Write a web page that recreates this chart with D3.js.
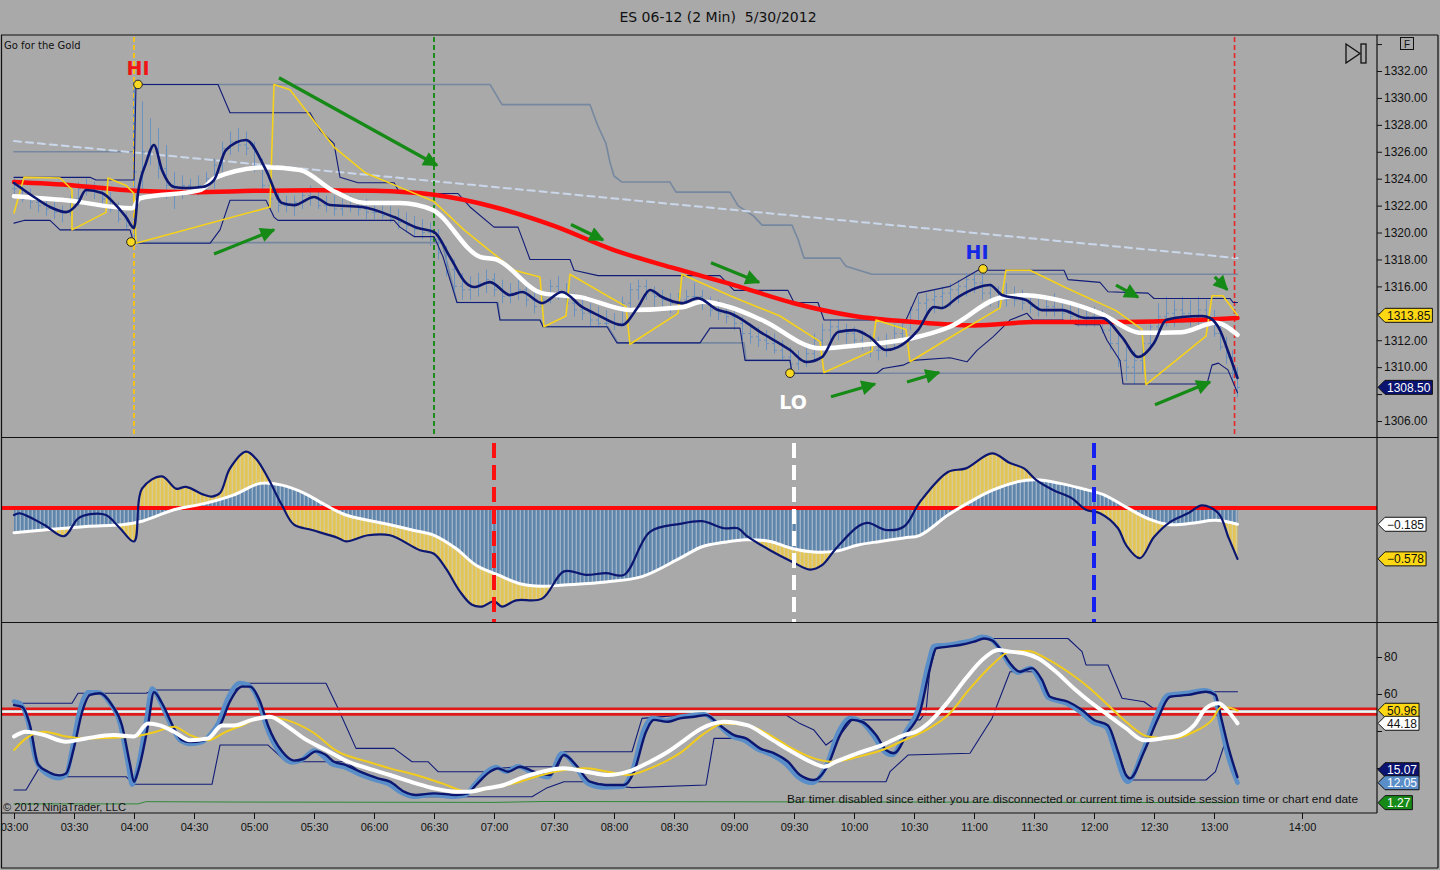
<!DOCTYPE html>
<html>
<head>
<meta charset="utf-8">
<script src="https://cdn.jsdelivr.net/npm/d3@7"></script>
<style>
  html, body { margin: 0; padding: 0; background: #a9a9a9; }
  svg { display: block; }
</style>
</head>
<body>
<svg id="chart" width="1440" height="870"></svg>
<script>
// ---- time axis (minutes after 03:00) ----
const timeTicks = [0, 30, 60, 90, 120, 150, 180, 210, 240, 270, 300, 330, 360, 390, 420, 450, 480, 510, 540, 570, 600, 660];
const timeLabels = ['03:00', '03:30', '04:00', '04:30', '05:00', '05:30', '06:00', '06:30', '07:00', '07:30', '08:00', '08:30',
  '09:00', '09:30', '10:00', '10:30', '11:00', '11:30', '12:00', '12:30', '13:00', '14:00'];
const priceTicks = [1306, 1308, 1310, 1312, 1314, 1316, 1318, 1320, 1322, 1324, 1326, 1328, 1330, 1332, 1334];
const stochTicks = [20, 40, 60, 80];

// ---- price bars, one every 4 minutes from 03:00 ----
const barStep = 4;
const barHigh = [
  1324.0, 1323.5, 1323.25, 1322.75, 1322.5, 1322.25, 1322.0, 1322.75, 1323.75, 1324.0,
  1323.75, 1323.5, 1323.0, 1322.25, 1321.5, 1331.0, 1329.75, 1328.5, 1327.75, 1326.5,
  1324.5, 1324.25, 1324.0, 1324.25, 1324.5, 1325.5, 1326.75, 1327.5, 1327.75, 1327.5,
  1326.75, 1325.5, 1324.5, 1323.25, 1322.75, 1322.75, 1323.25, 1323.5, 1323.25, 1322.75,
  1322.75, 1322.5, 1322.75, 1322.5, 1322.5, 1322.25, 1322.25, 1322.0, 1321.75, 1321.5,
  1321.25, 1321.0, 1320.75, 1320.25, 1319.0, 1318.0, 1317.0, 1316.75, 1317.0, 1317.25,
  1317.0, 1316.5, 1316.25, 1316.5, 1316.25, 1315.75, 1315.5, 1316.5, 1316.75, 1316.25,
  1315.5, 1315.25, 1314.75, 1314.5, 1314.25, 1314.0, 1315.25, 1316.25, 1316.5, 1316.5,
  1316.0, 1315.75, 1315.5, 1315.5, 1315.75, 1316.25, 1315.75, 1315.25, 1315.0, 1314.75,
  1314.5, 1313.75, 1313.25, 1313.0, 1312.75, 1312.5, 1312.0, 1311.5, 1311.25, 1311.75,
  1312.5, 1313.25, 1313.5, 1313.5, 1313.25, 1313.0, 1312.75, 1312.5, 1312.25, 1312.5,
  1313.25, 1313.5, 1314.5, 1315.25, 1315.5, 1315.75, 1316.0, 1316.25, 1316.5, 1317.0,
  1317.0, 1317.25, 1316.25, 1316.0, 1316.25, 1316.0, 1315.75, 1315.5, 1315.25, 1315.25,
  1315.5, 1315.0, 1314.75, 1314.75, 1314.5, 1314.5, 1314.25, 1313.5, 1312.5, 1311.5,
  1311.25, 1312.0, 1313.5, 1314.75, 1315.25, 1315.0, 1315.25, 1315.0, 1315.25, 1315.0,
  1314.25, 1313.25, 1312.25, 1311.25, 1310.0
];
const barLow = [
  1322.75, 1322.25, 1321.75, 1321.5, 1321.25, 1321.0, 1320.75, 1321.25, 1322.0, 1322.75,
  1322.5, 1322.0, 1321.5, 1320.75, 1320.25, 1319.25, 1323.0, 1325.0, 1324.0, 1322.5,
  1321.75, 1322.5, 1322.75, 1322.75, 1323.0, 1323.25, 1324.5, 1325.75, 1326.0, 1325.75,
  1324.5, 1323.0, 1322.0, 1321.5, 1321.5, 1321.25, 1321.75, 1322.0, 1321.75, 1321.5,
  1321.25, 1321.25, 1321.5, 1321.25, 1321.0, 1321.0, 1321.0, 1320.75, 1320.25, 1320.0,
  1319.75, 1319.5, 1319.0, 1318.0, 1316.75, 1315.5, 1315.0, 1315.0, 1315.25, 1315.5,
  1315.25, 1314.75, 1314.75, 1315.0, 1314.5, 1314.0, 1314.0, 1314.75, 1315.0, 1314.25,
  1313.75, 1313.5, 1313.0, 1313.0, 1313.0, 1312.75, 1313.0, 1314.25, 1315.0, 1315.0,
  1314.5, 1314.25, 1314.0, 1314.25, 1314.5, 1314.75, 1314.25, 1313.75, 1313.5, 1313.25,
  1312.75, 1312.0, 1311.75, 1311.5, 1311.25, 1311.0, 1310.5, 1309.5, 1309.75, 1310.0,
  1310.5, 1311.5, 1312.0, 1312.0, 1311.75, 1311.5, 1311.25, 1310.75, 1310.5, 1310.75,
  1311.25, 1312.0, 1312.75, 1313.5, 1313.75, 1314.0, 1314.25, 1314.5, 1314.75, 1315.25,
  1315.5, 1315.0, 1314.5, 1314.25, 1314.5, 1314.5, 1314.25, 1314.0, 1313.75, 1313.75,
  1313.75, 1313.5, 1313.25, 1313.0, 1313.0, 1313.0, 1312.5, 1311.25, 1310.0, 1309.0,
  1308.75, 1309.5, 1311.25, 1312.5, 1313.0, 1313.0, 1313.25, 1313.0, 1313.0, 1313.0,
  1312.25, 1311.25, 1310.25, 1309.0, 1307.75
];
const barClose = [
  1323.25, 1322.5, 1322.25, 1322.0, 1321.75, 1321.5, 1321.5, 1322.5, 1323.25, 1323.25,
  1323.0, 1322.5, 1321.75, 1321.0, 1320.5, 1324.5, 1326.0, 1326.25, 1324.75, 1323.5,
  1323.0, 1323.5, 1323.25, 1323.5, 1324.0, 1325.0, 1326.25, 1326.75, 1326.5, 1326.25,
  1325.0, 1323.5, 1322.5, 1322.0, 1322.0, 1322.25, 1322.75, 1322.5, 1322.0, 1322.0,
  1321.75, 1322.0, 1322.0, 1321.75, 1321.5, 1321.5, 1321.25, 1321.0, 1320.75, 1320.5,
  1320.25, 1320.0, 1319.5, 1318.5, 1317.25, 1316.0, 1315.75, 1316.0, 1316.25, 1316.5,
  1315.75, 1315.25, 1315.5, 1315.75, 1315.0, 1314.5, 1315.0, 1316.0, 1315.5, 1314.75,
  1314.25, 1314.0, 1313.5, 1313.25, 1313.25, 1313.25, 1314.75, 1315.75, 1316.0, 1315.5,
  1315.25, 1315.0, 1314.75, 1315.0, 1315.25, 1315.25, 1314.75, 1314.25, 1314.0, 1313.75,
  1313.25, 1312.5, 1312.25, 1312.0, 1311.75, 1311.25, 1310.75, 1310.25, 1310.5, 1311.0,
  1312.0, 1312.75, 1313.0, 1312.75, 1312.5, 1312.0, 1311.75, 1311.25, 1311.25, 1311.75,
  1312.5, 1313.25, 1314.25, 1314.75, 1315.0, 1315.25, 1315.5, 1315.75, 1316.0, 1316.5,
  1316.25, 1315.5, 1315.0, 1315.0, 1315.25, 1315.0, 1314.75, 1314.5, 1314.25, 1314.5,
  1314.25, 1314.0, 1313.75, 1313.5, 1313.75, 1313.5, 1312.75, 1311.75, 1310.5, 1310.0,
  1310.5, 1311.75, 1313.0, 1313.75, 1314.0, 1314.25, 1314.0, 1313.75, 1314.25, 1313.5,
  1312.5, 1311.5, 1310.75, 1309.5, 1308.5
];

// ---- price panel indicator lines, [minute, price] ----
const slowMA = [[0, 1323.75], [30, 1323.5], [60, 1323.1], [90, 1323.0], [120, 1323.1], [150, 1323.15], [180, 1323.1],
  [210, 1322.8], [240, 1321.9], [270, 1320.5], [300, 1318.7], [330, 1317.35], [360, 1316.1], [390, 1314.75],
  [420, 1313.8], [450, 1313.35], [480, 1313.1], [510, 1313.35], [540, 1313.35], [570, 1313.4], [600, 1313.55], [616, 1313.65]];
const midMA = [[0, 1322.7], [26, 1322.4], [59, 1321.8], [63, 1322.55], [93, 1323.15], [101, 1324.1], [126, 1324.85],
  [143, 1324.65], [159, 1323.15], [176, 1322.2], [193, 1322.2], [209, 1321.7], [233, 1318.2], [241, 1318.0],
  [264, 1315.5], [283, 1315.2], [308, 1314.25], [334, 1314.45], [344, 1314.85], [358, 1314.45], [374, 1313.5],
  [403, 1311.4], [424, 1311.65], [449, 1312.15], [468, 1313.0], [493, 1315.15], [506, 1315.35], [526, 1314.85],
  [543, 1314.0], [564, 1312.55], [584, 1312.6], [601, 1313.3], [616, 1312.4]];
const fastMA = [[0, 1323.68], [10, 1322.64], [18, 1321.9], [26, 1321.52], [32, 1322.19], [36, 1323.16], [44, 1322.94],
  [50, 1322.19], [56, 1321.15], [60, 1320.33], [62, 1322.94], [66, 1325.16], [70, 1326.5], [74, 1324.64], [80, 1323.38],
  [86, 1323.31], [94, 1323.38], [100, 1323.9], [106, 1326.13], [116, 1326.87], [126, 1324.64], [134, 1322.19],
  [140, 1322.04], [150, 1322.64], [158, 1322.04], [174, 1321.9], [190, 1321.15], [202, 1320.33], [210, 1320.04],
  [218, 1318.18], [226, 1316.25], [230, 1315.95], [238, 1316.32], [248, 1315.36], [254, 1315.58], [264, 1314.76],
  [274, 1315.58], [284, 1314.47], [292, 1313.87], [304, 1313.13], [312, 1314.47], [318, 1315.73], [324, 1315.21],
  [334, 1314.76], [342, 1315.13], [352, 1314.24], [358, 1314.01], [374, 1312.53], [388, 1311.27], [396, 1310.38],
  [404, 1310.75], [412, 1312.61], [420, 1312.75], [428, 1312.23], [436, 1311.27], [442, 1311.49], [452, 1312.75],
  [460, 1314.47], [464, 1314.39], [472, 1315.21], [488, 1316.1], [494, 1315.36], [506, 1314.99], [514, 1314.24],
  [524, 1314.24], [536, 1313.65], [544, 1313.65], [554, 1312.23], [562, 1310.75], [570, 1311.79], [576, 1313.5],
  [584, 1313.72], [594, 1313.8], [598, 1313.65], [604, 1312.76], [610, 1311.05], [616, 1309.2]];
const trailStop = [[0, 1321.45], [5, 1324.1], [23, 1324.05], [29, 1323.2], [29, 1320.2], [46, 1321.5], [47, 1324.05],
  [56, 1323.5], [60, 1322.9], [61, 1319.2], [128, 1321.9], [130, 1331.0], [138, 1330.6], [160, 1326.35], [176, 1324.4],
  [194, 1323.3], [210, 1322.3], [225, 1320.2], [250, 1317.2], [263, 1316.7], [265, 1313.0], [276, 1313.8], [278, 1316.9],
  [306, 1314.5], [308, 1311.7], [332, 1314.0], [334, 1316.9], [358, 1315.3], [383, 1313.8], [403, 1311.9], [405, 1309.6],
  [429, 1311.2], [431, 1313.5], [446, 1312.8], [448, 1310.4], [468, 1312.2], [493, 1314.4], [496, 1317.2], [508, 1317.2],
  [526, 1315.9], [551, 1314.2], [564, 1312.8], [566, 1308.7], [596, 1312.3], [599, 1315.3], [606, 1315.3], [616, 1313.85]];
const bandUp = [[0, 1324.1], [38, 1324.1], [41, 1323.9], [60, 1323.9], [61, 1331.0], [102, 1331.0], [108, 1328.9],
  [148, 1328.9], [153, 1327.6], [160, 1326.6], [163, 1324.1], [172, 1323.7], [190, 1323.7], [193, 1322.9], [222, 1322.9],
  [228, 1321.9], [240, 1320.4], [252, 1320.4], [258, 1318.0], [278, 1318.0], [280, 1317.2], [292, 1316.8], [353, 1316.8],
  [360, 1315.7], [387, 1315.7], [390, 1314.8], [402, 1314.8], [405, 1313.5], [446, 1313.5], [452, 1315.5], [468, 1316.0],
  [482, 1317.2], [525, 1317.2], [527, 1316.5], [543, 1316.3], [547, 1315.6], [567, 1315.5], [570, 1315.1], [611, 1315.1],
  [613, 1314.8], [616, 1314.8]];
const bandLo = [[0, 1320.7], [5, 1320.9], [18, 1320.9], [23, 1320.2], [58, 1320.2], [60, 1319.2], [98, 1319.2],
  [103, 1320.2], [108, 1322.4], [126, 1322.4], [130, 1321.15], [132, 1320.9], [190, 1320.9], [193, 1320.4], [200, 1319.7],
  [210, 1319.7], [214.5, 1318.2], [221.5, 1314.8], [241.5, 1314.8], [243, 1313.5], [263, 1313.5], [264.5, 1313.0],
  [296.5, 1313.0], [301.5, 1311.8], [343, 1311.8], [348, 1312.9], [363, 1312.9], [365.5, 1310.5], [388, 1310.5],
  [389, 1309.55], [431.5, 1309.55], [434.5, 1309.9], [444.5, 1310.15], [449.5, 1310.5], [468, 1310.7], [476.5, 1310.4],
  [481.5, 1311.25], [489.5, 1312.25], [498, 1313.5], [506.5, 1314.0], [509.5, 1313.5], [524.5, 1313.5], [531.5, 1313.15],
  [543, 1313.15], [546.5, 1312.0], [553, 1310.5], [554.5, 1308.75], [596.5, 1308.75], [599, 1310.15], [603, 1310.3],
  [609.5, 1309.8], [616, 1308.1]];
const rangeHigh = [[0, 1326.0], [60, 1326.0], [60, 1331.0], [238, 1331.0], [244, 1329.5], [288, 1329.5], [292, 1327.9],
  [296, 1326.6], [298, 1325.2], [300, 1324.2], [304, 1323.75], [328, 1323.75], [331, 1323.0], [358, 1323.0], [362, 1322.0],
  [370, 1321.2], [374, 1320.55], [389, 1320.55], [392, 1319.5], [395, 1318.1], [413, 1318.1], [416, 1317.5], [429, 1316.9],
  [616, 1316.9]];
const rangeLow = [[60, 1319.25], [214, 1319.25], [221.5, 1314.8], [242, 1314.8], [243, 1313.5], [263, 1313.5], [265, 1313.0],
  [297, 1313.0], [302, 1311.8], [365, 1311.8], [366, 1310.5], [388, 1310.5], [389, 1309.55], [616, 1309.55]];
const trendLine = [[0, 1326.8], [616, 1318.1]];
const swingPoints = [[62, 1331.0], [58.5, 1319.3], [388, 1309.55], [484.5, 1317.3]];
const swingLabels = ['HI', '', 'LO', 'HI'];
const arrows = [[132.5, 1331.5, 211.5, 1325.0], [100, 1318.4, 130, 1320.2], [278.5, 1320.6, 294.5, 1319.45],
  [348.5, 1317.75, 372.5, 1316.3], [408.5, 1307.8, 430.5, 1308.75], [446.5, 1308.9, 462.5, 1309.6],
  [570.5, 1307.2, 598, 1308.9], [551, 1316.1, 562, 1315.2], [600.5, 1316.7, 609, 1315.75]];
const topMarkers = [60, 210, 614];

// ---- MACD panel ----
const macdLine = [[0, -0.08], [3, -0.06], [15, -0.19], [25, -0.32], [32, -0.12], [38, -0.07], [46, -0.08], [53, -0.23],
  [60, -0.38], [64, 0.22], [74, 0.36], [81, 0.22], [86, 0.24], [95, 0.15], [99, 0.13], [103, 0.17], [108, 0.45],
  [116, 0.64], [121, 0.56], [127, 0.34], [134, 0.03], [140, -0.19], [149, -0.25], [162, -0.34], [166, -0.38],
  [177, -0.31], [188, -0.31], [203, -0.48], [210, -0.52], [216, -0.69], [223, -0.95], [229, -1.10], [234, -1.12],
  [240, -1.06], [244, -1.12], [251, -1.05], [264, -1.03], [275, -0.72], [286, -0.76], [296, -0.74], [305, -0.76],
  [318, -0.27], [333, -0.18], [344, -0.15], [355, -0.23], [362, -0.23], [366, -0.31], [378, -0.48], [389, -0.61],
  [398, -0.70], [404, -0.65], [411, -0.46], [422, -0.21], [427, -0.17], [436, -0.25], [445, -0.21], [453, 0.07],
  [467, 0.41], [476, 0.45], [489, 0.62], [498, 0.51], [505, 0.45], [511, 0.32], [520, 0.20], [529, 0.11], [536, -0.02],
  [543, -0.06], [552, -0.23], [556, -0.42], [563, -0.57], [570, -0.33], [578, -0.16], [587, -0.06], [594, 0.03],
  [603, -0.06], [610, -0.34], [616, -0.578]];
const macdSignal = [[0, -0.28], [15, -0.25], [36, -0.21], [54, -0.19], [64, -0.15], [80, -0.02], [95, 0.05], [110, 0.15],
  [123, 0.28], [134, 0.26], [145, 0.17], [156, 0.03], [166, -0.08], [188, -0.19], [199, -0.25], [210, -0.31],
  [221, -0.46], [231, -0.65], [242, -0.76], [253, -0.86], [264, -0.89], [275, -0.875], [296, -0.84], [314, -0.78],
  [333, -0.57], [344, -0.44], [355, -0.39], [366, -0.36], [378, -0.38], [389, -0.46], [400, -0.50], [411, -0.49],
  [422, -0.42], [433, -0.38], [445, -0.34], [453, -0.31], [467, -0.08], [478, 0.07], [489, 0.20], [502, 0.30],
  [511, 0.32], [523, 0.28], [534, 0.22], [545, 0.15], [556, 0.01], [567, -0.12], [578, -0.19], [590, -0.17],
  [601, -0.14], [616, -0.185]];
const midMarkers = [240, 390, 540];

// ---- stochastic panel ----
const stochK = [[0, 56], [3, 55], [7, 45], [11, 24], [16, 17], [22, 14.5], [26, 16], [29, 30], [33, 52], [37, 61], [42, 61],
  [48, 55], [53, 44], [57, 22], [59, 11], [61, 16], [66, 45], [69, 63], [73, 56], [79, 42], [83, 35], [88, 33], [94, 34],
  [98, 38], [102, 44], [107, 58], [113, 66], [117, 65], [122, 57], [126, 43], [133, 28], [139, 23], [144, 24.5], [150, 29.5],
  [155, 26], [159, 22], [165, 20.5], [172, 17], [181, 13.5], [187, 11.5], [194, 6.5], [200, 4.5], [209, 5.5], [220, 4.5],
  [226, 5.5], [230, 10.8], [237, 18.5], [241, 20.5], [246, 18], [252, 21], [259, 17.5], [267, 15], [274, 28], [280, 22],
  [287, 11.5], [295, 9.5], [304, 9.8], [309, 18], [315, 41], [319, 47], [326, 45.5], [332, 47.5], [339, 48.5], [345, 49],
  [352, 43.5], [359, 37], [365, 35], [372, 30], [379, 27], [386, 22], [392, 15], [399, 12], [406, 21], [412, 39], [418, 47],
  [423, 45.5], [430, 37], [435, 29], [439, 27], [446, 40], [452, 52], [457, 76], [460, 86], [466, 86.5], [472, 87.5],
  [479, 89], [484, 91], [488, 90], [493, 84], [497, 77], [502, 71.5], [508, 74], [513, 67], [517, 58], [526, 55],
  [533, 50.5], [539, 45], [546, 42], [551, 27], [555, 14.5], [557, 12.5], [564, 28], [571, 48], [577, 59.5], [586, 60.5],
  [595, 62], [600, 60], [604, 46], [609, 28], [616, 12.05]];
const stochD = [[0, 54], [4, 53], [8, 43], [12, 22], [17, 18], [23, 16], [26, 17], [30, 31], [34, 50], [38, 59.5], [43, 60.4],
  [49, 54], [54, 43], [58, 22], [60, 12.6], [62, 18], [67, 43], [70, 61], [74, 55], [80, 41.5], [84, 35], [88, 34], [95, 35],
  [99, 38], [103, 43], [108, 56], [114, 64], [118, 64], [123, 56], [127, 43], [134, 29], [140, 24], [145, 25], [151, 29],
  [156, 27], [160, 23.4], [166, 21.6], [173, 18], [182, 14.4], [188, 12.6], [195, 7.2], [201, 5.4], [210, 6.3], [221, 5.4],
  [227, 6.3], [231, 10.8], [238, 18], [242, 19.8], [247, 18], [253, 20.7], [260, 18], [268, 16.2], [275, 27], [281, 21.6],
  [288, 12.6], [296, 10.8], [305, 10.8], [310, 18], [316, 39.6], [320, 46], [327, 45], [333, 46.8], [340, 47.7], [346, 48.6],
  [353, 43], [360, 37.8], [366, 36], [373, 30.6], [380, 28], [387, 23.4], [393, 16.2], [400, 13.5], [407, 21.6], [413, 37.8],
  [419, 46], [424, 45], [431, 37.8], [436, 29.7], [440, 28], [447, 39.6], [453, 50.4], [458, 74], [461, 84.7], [467, 85.6],
  [473, 86.5], [480, 88.3], [485, 90], [489, 89], [494, 83], [498, 76.6], [503, 72], [509, 74], [514, 67.6], [518, 58.5],
  [527, 55.8], [534, 51.4], [540, 46], [547, 43], [552, 28.8], [556, 16.2], [558, 14.4], [565, 28.8], [572, 46.8],
  [578, 58.5], [587, 59.5], [596, 61.2], [601, 59.5], [605, 46.8], [610, 30.6], [616, 15.07]];
const stochAvg = [[0, 37], [6, 39.6], [15, 37.8], [26, 34.2], [36, 36], [50, 37.8], [60, 37], [67, 44], [73, 43], [80, 39.6],
  [88, 35], [97, 36], [104, 43], [110, 43], [119, 46], [128, 47.7], [136, 43], [145, 36], [156, 29.7], [167, 23.4],
  [177, 19.8], [188, 16.2], [201, 11.7], [210, 9], [221, 7.2], [227, 7.2], [236, 9], [245, 10.8], [253, 14.4], [264, 18],
  [275, 19.8], [286, 18], [297, 16.2], [307, 18], [318, 23.4], [327, 28.8], [333, 33.3], [344, 41.5], [355, 45], [367, 43],
  [378, 36], [389, 28.8], [400, 22.5], [405, 20.7], [411, 23.4], [422, 28], [434, 32.4], [445, 37.8], [451, 39.6], [458, 45],
  [467, 55.8], [476, 68.5], [485, 79.3], [492, 83.8], [498, 82.9], [505, 82], [512, 79.3], [521, 72], [530, 63], [538, 55.8],
  [547, 48.6], [556, 41.5], [565, 35], [574, 36], [583, 37.8], [590, 43], [596, 52.3], [603, 55], [610, 50.4], [616, 44.18]];
const stochSlow = [[0, 29.7], [6, 36], [15, 39.6], [26, 37], [36, 36], [50, 36.4], [60, 37], [71, 39.6], [80, 42.3], [88, 37.8],
  [97, 35], [106, 39.6], [114, 43], [125, 47.7], [136, 46], [149, 39.6], [162, 28.8], [177, 23.4], [188, 19.8], [201, 16.2],
  [214, 11.7], [227, 7.2], [238, 9], [253, 12.6], [264, 16.2], [275, 18.9], [286, 19.8], [297, 18], [307, 16.2], [318, 19.8],
  [327, 24.3], [333, 28], [344, 37.8], [355, 44], [367, 43], [378, 37.8], [389, 30.6], [400, 25.2], [409, 23.4], [422, 26],
  [434, 29.7], [445, 35], [456, 40.5], [467, 48.6], [478, 63], [489, 75.7], [498, 82.9], [507, 83.2], [516, 79.3], [527, 72],
  [538, 63], [547, 54], [556, 45], [567, 37], [579, 36], [590, 39.6], [599, 46], [605, 53], [612, 52.3], [616, 50.96]];
const stochUp = [[0, 55], [29, 55], [32, 60.4], [66, 60.4], [70, 62.2], [110, 62.2], [117, 65.8], [156, 65.8], [162, 52.3],
  [171, 30.6], [190, 30.6], [199, 23.4], [207, 23.4], [212, 18], [238, 18], [242, 19.8], [253, 20.7], [272, 20.7],
  [275, 28.8], [309, 28.8], [314, 46.8], [333, 48.6], [386, 48.6], [393, 44], [400, 40.5], [406, 32.4], [413, 37.8],
  [419, 46], [453, 46], [456, 50.4], [458, 74], [461, 84.7], [467, 85.6], [480, 88.3], [485, 90], [527, 90], [534, 82.9],
  [536, 75.7], [547, 75.7], [554, 57.7], [565, 55.8], [572, 50.4], [578, 58.5], [587, 59.5], [596, 61.2], [616, 61.2]];
const stochLo = [[0, 8.1], [6, 8.1], [12.5, 19.8], [21, 15.3], [56, 15.3], [60, 11.2], [99, 11.2], [103, 32.4], [127, 32.4],
  [136, 23.4], [166, 23.4], [173, 18], [181, 14.4], [188, 12.6], [194, 7.2], [199, 4.5], [259, 4.5], [266, 9], [275, 12.6],
  [288, 12.6], [296, 10.8], [309, 9.4], [346, 10.8], [350, 36], [366, 36], [373, 30.6], [380, 28], [386, 23.4], [393, 16.2],
  [400, 12.6], [436, 12.6], [438, 18], [447, 27], [478, 28], [489, 46.8], [498, 72], [510, 72], [514, 67.6], [518, 58.5],
  [527, 55.8], [534, 51.4], [540, 46], [547, 43], [552, 28.8], [556, 16.2], [558, 13.5], [596, 13.5], [601, 18], [608, 35]];
const volumeLine = [[0, 0.6], [62, 0.6], [66, 1.8], [110, 1.6], [240, 1.4], [265, 1.9], [440, 1.6], [616, 1.27]];
const stochLevels = [52, 49];

// last-value tags on the right axis
const lastTop = [1313.85, 1308.50];
const lastMid = [-0.185, -0.578];
const lastBot = [50.96, 44.18, 15.07, 12.05, 1.27];

// ------------------------------------------------------------
const W = 1440, H = 870;
const plotL = 2, plotR = 1377;
const top1 = 35, bot1 = 437, top2 = 438, bot2 = 622, top3 = 623, bot3 = 813;

const svg = d3.select('#chart');
svg.append('rect').attr('width', W).attr('height', H).attr('fill', '#a9a9a9');

const x = d3.scaleLinear().domain([0, 600, 660]).range([14, 1214, 1302]);
const yP = d3.scaleLinear().domain([1306, 1332]).range([421, 71]);
const yM = d3.scaleLinear().domain([-1, 0]).range([596, 508]);
const yS = d3.scaleLinear().domain([0, 80]).range([805, 657]);

const defs = svg.append('defs');
[['clipTop', top1, bot1], ['clipMid', top2, bot2], ['clipBot', top3, bot3]].forEach(([id, a, b]) => {
  defs.append('clipPath').attr('id', id).append('rect')
    .attr('x', plotL).attr('y', a).attr('width', plotR - plotL).attr('height', b - a);
});
function stripes(id, color, gap) {
  const p = defs.append('pattern').attr('id', id).attr('patternUnits', 'userSpaceOnUse')
    .attr('x', 0).attr('y', 0).attr('width', 4).attr('height', 8);
  p.append('rect').attr('width', 4).attr('height', 8).attr('fill', gap);
  p.append('rect').attr('x', 1).attr('width', 2.6).attr('height', 8).attr('fill', color);
}
stripes('histBlue', '#5f86ad', '#9fb1c4');
stripes('histGold', '#e4c453', '#d6cc9a');
defs.append('marker').attr('id', 'arrowHead').attr('viewBox', '0 0 10 10')
  .attr('refX', 9).attr('refY', 5).attr('markerWidth', 17).attr('markerHeight', 15)
  .attr('markerUnits', 'userSpaceOnUse').attr('orient', 'auto')
  .append('path').attr('d', 'M0,0 L10,5 L0,10 Z').attr('fill', '#168a16');

const lineTop = c => d3.line().x(d => x(d[0])).y(d => yP(d[1])).curve(c);
const lineMid = d3.line().x(d => x(d[0])).y(d => yM(d[1])).curve(d3.curveCatmullRom);
const lineBot = c => d3.line().x(d => x(d[0])).y(d => yS(d[1])).curve(c);
const smooth = d3.curveMonotoneX;
const lin = d3.curveLinear;

function path(g, data, gen, color, width, dash) {
  return g.append('path').datum(data).attr('d', gen).attr('fill', 'none')
    .attr('stroke', color).attr('stroke-width', width)
    .attr('stroke-linejoin', 'round').attr('stroke-linecap', 'round')
    .attr('stroke-dasharray', dash || null);
}

// ---------------- price panel ----------------
const g1 = svg.append('g').attr('clip-path', 'url(#clipTop)');
path(g1, rangeHigh, lineTop(lin), '#7688a0', 1.6);
path(g1, rangeLow, lineTop(lin), '#7688a0', 1.6);
path(g1, trendLine, lineTop(lin), '#cad7ea', 2, '7,5');

const topColors = ['#f2c21a', '#1c8c1c', '#e8262a'];
topMarkers.forEach((m, i) => {
  g1.append('line').attr('x1', x(m)).attr('x2', x(m)).attr('y1', top1 + 2).attr('y2', bot1)
    .attr('stroke', topColors[i]).attr('stroke-width', i === 2 ? 1.6 : 2).attr('stroke-dasharray', '5,3');
});

const bars = barHigh.map((h, i) => ({ m: i * barStep, h, l: barLow[i], c: barClose[i], o: i ? barClose[i - 1] : barClose[0] }));
const barG = g1.append('g').attr('stroke', '#6a91bf').attr('stroke-width', 1);
bars.forEach(b => {
  const bx = Math.round(x(b.m)) + 0.5;
  barG.append('line').attr('x1', bx).attr('x2', bx).attr('y1', yP(b.h)).attr('y2', yP(b.l));
  barG.append('line').attr('x1', bx - 2.5).attr('x2', bx).attr('y1', yP(b.o)).attr('y2', yP(b.o));
  barG.append('line').attr('x1', bx).attr('x2', bx + 2.5).attr('y1', yP(b.c)).attr('y2', yP(b.c));
});

path(g1, bandUp, lineTop(lin), '#111c78', 1.1);
path(g1, bandLo, lineTop(lin), '#111c78', 1.1);
path(g1, slowMA, lineTop(smooth), '#ff0a0a', 4.5);
path(g1, trailStop, lineTop(lin), '#f6d21a', 1.6);
path(g1, midMA, lineTop(smooth), '#ffffff', 4.5);
path(g1, fastMA, lineTop(smooth), '#0c1772', 2.6);

arrows.forEach(a => {
  g1.append('line').attr('x1', x(a[0])).attr('y1', yP(a[1])).attr('x2', x(a[2])).attr('y2', yP(a[3]))
    .attr('stroke', '#168a16').attr('stroke-width', 3.2).attr('marker-end', 'url(#arrowHead)');
});

const labelStyle = [
  { dx: 0, dy: -9, fill: '#f01414' }, null,
  { dx: 3, dy: 36, fill: '#ffffff' },
  { dx: -6, dy: -10, fill: '#1428e6' }
];
swingPoints.forEach((s, i) => {
  const px = x(s[0]), py = yP(s[1]);
  g1.append('circle').attr('cx', px).attr('cy', py).attr('r', 4.3)
    .attr('fill', '#f8d820').attr('stroke', '#222').attr('stroke-width', 1);
  if (swingLabels[i]) {
    const st = labelStyle[i];
    g1.append('text').attr('x', px + st.dx).attr('y', py + st.dy).attr('text-anchor', 'middle')
      .attr('font-family', '"DejaVu Sans", sans-serif').attr('font-weight', 'bold').attr('font-size', 19)
      .attr('fill', st.fill).text(swingLabels[i]);
  }
});

// ---------------- MACD panel ----------------
const g2 = svg.append('g').attr('clip-path', 'url(#clipMid)');
const navyPath = lineMid(macdLine);
const whiteBack = lineMid(macdSignal.slice().reverse()).replace(/^M/, 'L');
g2.append('path').attr('d', navyPath + whiteBack + 'Z').attr('fill', 'url(#histGold)');
g2.append('path').datum(macdSignal)
  .attr('d', d3.area().x(d => x(d[0])).y0(yM(0)).y1(d => yM(d[1])).curve(d3.curveCatmullRom))
  .attr('fill', 'url(#histBlue)');
g2.append('line').attr('x1', plotL).attr('x2', plotR).attr('y1', yM(0)).attr('y2', yM(0))
  .attr('stroke', '#ff0a0a').attr('stroke-width', 4);
path(g2, macdSignal, lineMid, '#ffffff', 3);
path(g2, macdLine, lineMid, '#0c1772', 2.2);
const midColors = ['#ff1010', '#ffffff', '#1420f0'];
midMarkers.forEach((m, i) => {
  g2.append('line').attr('x1', x(m)).attr('x2', x(m)).attr('y1', top2 + 5).attr('y2', bot2)
    .attr('stroke', midColors[i]).attr('stroke-width', 4).attr('stroke-dasharray', '15,7');
});

// ---------------- stochastic panel ----------------
const g3 = svg.append('g').attr('clip-path', 'url(#clipBot)');
path(g3, volumeLine, lineBot(lin), '#2f8a3a', 1);
path(g3, stochUp, lineBot(lin), '#111c78', 1.1);
path(g3, stochLo, lineBot(lin), '#111c78', 1.1);
stochLevels.forEach(v => {
  g3.append('line').attr('x1', plotL).attr('x2', plotR).attr('y1', yS(v)).attr('y2', yS(v))
    .attr('stroke', '#e01818').attr('stroke-width', 2.6);
});
g3.append('line').attr('x1', plotL).attr('x2', plotR)
  .attr('y1', yS(d3.mean(stochLevels))).attr('y2', yS(d3.mean(stochLevels)))
  .attr('stroke', '#f4f4f4').attr('stroke-width', 2.2);
path(g3, stochK, lineBot(smooth), '#5a8ec8', 4.5);
path(g3, stochD, lineBot(smooth), '#0c1772', 2.4);
path(g3, stochSlow, lineBot(smooth), '#f2cc1c', 2);
path(g3, stochAvg, lineBot(smooth), '#ffffff', 4);

// ---------------- frame ----------------
const frame = svg.append('g').attr('stroke', '#111').attr('stroke-width', 1.2).attr('fill', 'none');
frame.append('line').attr('x1', 1).attr('x2', 1438).attr('y1', top1).attr('y2', top1);
frame.append('line').attr('x1', 1).attr('x2', 1438).attr('y1', bot1 + 0.5).attr('y2', bot1 + 0.5);
frame.append('line').attr('x1', 1).attr('x2', 1438).attr('y1', bot2 + 0.5).attr('y2', bot2 + 0.5);
frame.append('line').attr('x1', 1).attr('x2', plotR).attr('y1', bot3).attr('y2', bot3);
frame.append('line').attr('x1', 1).attr('x2', 1438).attr('y1', 868).attr('y2', 868);
frame.append('line').attr('x1', 1.5).attr('x2', 1.5).attr('y1', top1).attr('y2', 868);
frame.append('line').attr('x1', plotR).attr('x2', plotR).attr('y1', top1).attr('y2', bot3);
frame.append('line').attr('x1', 1438).attr('x2', 1438).attr('y1', top1).attr('y2', 868);

// ---------------- last-value tag layout ----------------
function layoutTags(values, scale, minGap) {
  const items = values.map(v => ({ v, y: scale(v) }));
  const order = items.slice().sort((a, b) => b.y - a.y);
  for (let i = 1; i < order.length; i++) {
    if (order[i - 1].y - order[i].y < minGap) order[i].y = order[i - 1].y - minGap;
  }
  return items;
}
const tagsTop = layoutTags(lastTop, yP, 16);
const tagsMid = layoutTags(lastMid, yM, 16);
const tagsBot = layoutTags(lastBot, yS, 13);
// axis labels that sit under a tag are covered by it
const covered = (tagList, py) => tagList.some(t => Math.abs(t.y - py) < 11);

// ---------------- axes ----------------
function styleAxis(g, size) {
  g.select('.domain').remove();
  g.selectAll('line').attr('stroke', '#111');
  g.selectAll('text').attr('font-family', '"Liberation Sans", Arial, sans-serif')
    .attr('font-size', size).attr('fill', '#111');
}
svg.append('g').attr('transform', `translate(${plotR},0)`)
  .call(d3.axisRight(yP).tickValues(priceTicks).tickSize(5).tickPadding(2)
    .tickFormat(d => (d > 1332 || covered(tagsTop, yP(d))) ? '' : d3.format('.2f')(d)))
  .call(g => styleAxis(g, 12));
svg.append('g').attr('transform', `translate(${plotR},0)`)
  .call(d3.axisRight(yS).tickValues(stochTicks).tickSize(5).tickPadding(2)
    .tickFormat(d => covered(tagsBot, yS(d)) ? '' : d3.format('d')(d)))
  .call(g => styleAxis(g, 12));
svg.append('g').attr('transform', `translate(0,${bot3})`)
  .call(d3.axisBottom(x).tickValues(timeTicks).tickSize(6).tickPadding(4).tickFormat((d, i) => timeLabels[i]))
  .call(g => styleAxis(g, 11));

// ---------------- tags ----------------
function drawTags(items, fmt, styles) {
  items.forEach((t, i) => {
    const st = styles[i];
    const g = svg.append('g').attr('transform', `translate(${plotR},${t.y})`);
    const shape = g.append('path');
    const txt = g.append('text').attr('x', 10).attr('y', 4.5)
      .attr('font-family', '"Liberation Sans", Arial, sans-serif').attr('font-size', 12)
      .attr('fill', st[1]).text(fmt(t.v));
    const w = txt.node().getComputedTextLength();
    shape.attr('d', `M1,0 L8,-7 H${w + 12} V7 H8 Z`)
      .attr('fill', st[0]).attr('stroke', '#111').attr('stroke-width', 1);
  });
}
drawTags(tagsTop, d3.format('.2f'), [['#ffd814', '#111'], ['#0a1470', '#fff']]);
drawTags(tagsMid, d3.format('.3f'), [['#ffffff', '#111'], ['#ffd814', '#111']]);
drawTags(tagsBot, d3.format('.2f'),
  [['#ffd814', '#111'], ['#ffffff', '#111'], ['#0a1470', '#fff'], ['#5a8ec8', '#fff'], ['#168a16', '#fff']]);

// ---------------- texts & icons ----------------
svg.append('text').attr('x', 718).attr('y', 22).attr('text-anchor', 'middle')
  .style('white-space', 'pre')
  .attr('font-family', '"DejaVu Sans", sans-serif').attr('font-size', 14).attr('fill', '#111')
  .text('ES 06-12 (2 Min)\u00a0 5/30/2012');
svg.append('text').attr('x', 4).attr('y', 49)
  .attr('font-family', '"DejaVu Sans", sans-serif').attr('font-size', 10).attr('fill', '#111')
  .text('Go for the Gold');
svg.append('text').attr('x', 3).attr('y', 811).attr('textLength', 123).attr('lengthAdjust', 'spacingAndGlyphs')
  .attr('font-family', '"Liberation Sans", Arial, sans-serif').attr('font-size', 11).attr('fill', '#111')
  .text('\u00a9 2012 NinjaTrader, LLC');
svg.append('text').attr('x', 787).attr('y', 803).attr('textLength', 571).attr('lengthAdjust', 'spacingAndGlyphs')
  .attr('font-family', '"Liberation Sans", Arial, sans-serif').attr('font-size', 10.5).attr('fill', '#111')
  .text('Bar timer disabled since either you are disconnected or current time is outside session time or chart end date');

const icon = svg.append('g').attr('fill', 'none').attr('stroke', '#111').attr('stroke-width', 1.3);
icon.append('path').attr('d', 'M1346,44 L1360,53.5 L1346,63 Z');
icon.append('rect').attr('x', 1361).attr('y', 44).attr('width', 5).attr('height', 19);
icon.append('rect').attr('x', 1400.5).attr('y', 37.5).attr('width', 13).attr('height', 12).attr('stroke-width', 1);
svg.append('text').attr('x', 1407).attr('y', 47.5).attr('text-anchor', 'middle')
  .attr('font-family', '"Liberation Sans", Arial, sans-serif').attr('font-size', 10).attr('fill', '#111').text('F');
</script>
</body>
</html>
